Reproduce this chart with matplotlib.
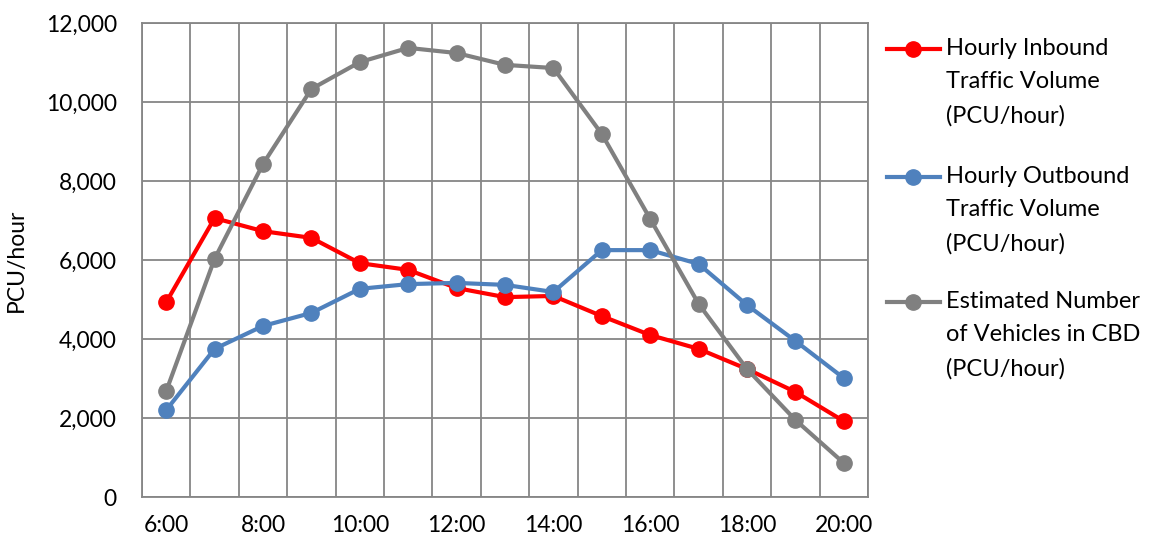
import matplotlib
matplotlib.use("Agg")
import matplotlib.pyplot as plt
from matplotlib.lines import Line2D
from matplotlib.ticker import FuncFormatter, MultipleLocator

plt.rcParams['font.family'] = ['Lato', 'DejaVu Sans']

hours = ["6:00", "7:00", "8:00", "9:00", "10:00", "11:00", "12:00", "13:00",
         "14:00", "15:00", "16:00", "17:00", "18:00", "19:00", "20:00"]
inbound = [4930, 7060, 6730, 6560, 5920, 5750, 5290, 5060, 5090, 4580,
           4100, 3750, 3240, 2660, 1920]
outbound = [2200, 3750, 4330, 4660, 5270, 5390, 5420, 5370, 5190, 6250,
            6250, 5900, 4860, 3950, 3010]
in_cbd = [2680, 6030, 8430, 10330, 11010, 11370, 11240, 10940, 10860, 9190,
          7040, 4890, 3240, 1950, 860]

series = [
    ("Hourly Inbound\nTraffic Volume\n(PCU/hour)", inbound, "#FF0000"),
    ("Hourly Outbound\nTraffic Volume\n(PCU/hour)", outbound, "#4F81BD"),
    ("Estimated Number\nof Vehicles in CBD\n(PCU/hour)", in_cbd, "#808080"),
]

grid_color = "#868686"
fs = 16.5
W, H = 1157, 545

fig = plt.figure(figsize=(W / 100, H / 100), dpi=100)
ax = fig.add_axes([142 / W, 1 - 497 / H, (868 - 142) / W, (497 - 23) / H])

x = list(range(len(hours)))
for label, vals, color in series:
    ax.plot(x, vals, color=color, lw=3.0, marker="o", markersize=11,
            solid_capstyle="round", zorder=3)

ax.set_xlim(-0.5, len(hours) - 0.5)
ax.set_ylim(0, 12000)
ax.yaxis.set_major_locator(MultipleLocator(2000))
ax.yaxis.set_major_formatter(FuncFormatter(lambda v, p: f"{int(v):,}"))
ax.set_xticks(x[::2])
ax.set_xticklabels(hours[::2])
ax.set_xticks([i - 0.5 for i in range(len(hours) + 1)], minor=True)

ax.grid(True, which="major", axis="y", color=grid_color, lw=1.3)
ax.grid(True, which="minor", axis="x", color=grid_color, lw=1.3)
ax.set_axisbelow(True)
for s in ax.spines.values():
    s.set_color(grid_color)
    s.set_linewidth(1.3)
ax.tick_params(axis="both", which="both", length=0, labelsize=fs, colors="black")
ax.tick_params(axis="x", pad=13)
ax.tick_params(axis="y", pad=18)
ax.set_ylabel("PCU/hour", fontsize=fs, labelpad=14)

# Legend drawn to the right of the plot, handle aligned with the first text line
entry_tops = [49, 177, 302]
for (label, vals, color), ypix in zip(series, entry_tops):
    yf = 1 - ypix / H
    fig.add_artist(Line2D([887 / W, 913 / W, 940 / W], [yf, yf, yf],
                          transform=fig.transFigure, color=color, lw=3.0,
                          marker="o", markersize=11, markevery=[1]))
    fig.text(946 / W, yf + 11 / H, label, fontsize=17, va="top", ha="left",
             linespacing=1.72, transform=fig.transFigure)

fig.savefig("out.png", dpi=100)
